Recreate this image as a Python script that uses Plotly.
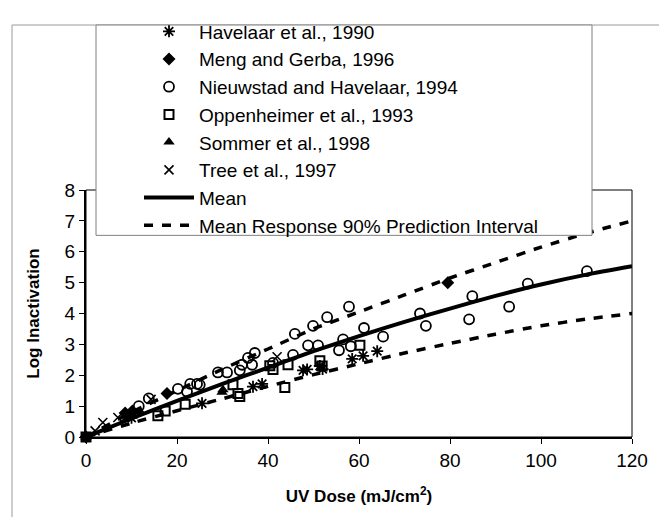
import plotly.graph_objects as go

# ---- data ----
havelaar_x = [0, 25.5, 36.7, 38.7, 47.7, 48.6, 51.4, 52.0, 58.5, 60.9, 64.0, 10.0]
havelaar_y = [0, 1.09, 1.63, 1.72, 2.16, 2.19, 2.30, 2.20, 2.53, 2.63, 2.78, 0.62]

meng_x = [0, 8.6, 9.5, 10.2, 17.8, 79.5]
meng_y = [0, 0.78, 0.70, 0.84, 1.41, 5.00]

nieuw_x = [11.6, 13.8, 20.2, 22.2, 22.9, 24.4, 25.0, 29.0, 31.0, 33.8, 34.3, 35.6, 37.1, 36.5,
           41.1, 45.5, 45.9, 48.8, 49.9, 51.0, 53.0, 55.6, 56.5, 57.8, 58.2, 61.1, 65.3, 73.4,
           74.7, 84.2, 84.9, 93.0, 97.1, 110.1]
nieuw_y = [1.00, 1.25, 1.56, 1.47, 1.72, 1.72, 1.69, 2.09, 2.09, 2.16, 2.34, 2.56, 2.72, 2.34,
           2.40, 2.66, 3.34, 2.97, 3.60, 2.97, 3.88, 2.81, 3.16, 4.22, 2.94, 3.53, 3.25, 4.00,
           3.60, 3.81, 4.56, 4.22, 4.97, 5.37]

oppen_x = [0, 15.8, 17.4, 21.8, 32.3, 33.4, 33.8, 40.4, 41.1, 43.7, 44.4, 51.4, 51.9, 60.2]
oppen_y = [0, 0.69, 0.84, 1.06, 1.69, 1.41, 1.31, 2.31, 2.19, 1.60, 2.34, 2.47, 2.30, 2.97]

sommer_x = [0, 9.0, 10.0, 12.0, 29.9, 30.1]
sommer_y = [0, 0.60, 0.70, 0.80, 1.45, 1.53]

tree_x = [2.0, 3.7, 7.0, 14.3, 42.0]
tree_y = [0.20, 0.47, 0.63, 1.22, 2.60]

line_x = [0, 10, 20, 30, 40, 50, 60, 70, 80, 90, 100, 110, 120]
mean_y = [0, 0.60, 1.17, 1.72, 2.25, 2.78, 3.27, 3.73, 4.16, 4.57, 4.94, 5.26, 5.53]
upper_y = [0, 0.80, 1.50, 2.20, 2.85, 3.50, 4.05, 4.60, 5.15, 5.65, 6.15, 6.60, 7.00]
lower_y = [0, 0.45, 0.85, 1.24, 1.64, 2.02, 2.37, 2.72, 3.03, 3.33, 3.60, 3.82, 4.00]

x_ticks = [0, 20, 40, 60, 80, 100, 120]
y_ticks = [0, 1, 2, 3, 4, 5, 6, 7, 8]

FONT = "Liberation Sans, Arial, sans-serif"
FW, FH = 659, 518

fig = go.Figure()

def pts(x, y, name, symbol, size, lw):
    fig.add_trace(go.Scatter(
        x=x, y=y, mode="markers", name=name, cliponaxis=False,
        marker=dict(symbol=symbol, size=size, color="black",
                    line=dict(color="black", width=lw)),
    ))

pts(havelaar_x, havelaar_y, "Havelaar et al., 1990", "asterisk-open", 10, 1.8)
pts(meng_x, meng_y, "Meng and Gerba, 1996", "diamond", 10, 0)
pts(nieuw_x, nieuw_y, "Nieuwstad and Havelaar, 1994", "circle-open", 10, 1.8)
pts(oppen_x, oppen_y, "Oppenheimer et al., 1993", "square-open", 9, 2)
pts(sommer_x, sommer_y, "Sommer et al., 1998", "triangle-up", 10, 0)
pts(tree_x, tree_y, "Tree et al., 1997", "x-thin-open", 9, 1.6)

fig.add_trace(go.Scatter(x=line_x, y=mean_y, mode="lines", name="Mean",
                         line=dict(color="black", width=4, shape="spline", smoothing=0.6)))
fig.add_trace(go.Scatter(x=line_x, y=upper_y, mode="lines",
                         name="Mean Response 90% Prediction Interval",
                         line=dict(color="black", width=3.5, dash="9px,9px",
                                   shape="spline", smoothing=0.6)))
fig.add_trace(go.Scatter(x=line_x, y=lower_y, mode="lines", showlegend=False,
                         line=dict(color="black", width=3.5, dash="9px,9px",
                                   shape="spline", smoothing=0.6)))

# plot-area geometry in px
L, R, T, B = 86, 632, 181, 437
W, H = R - L, B - T
def px(xp):
    return (xp - L) / W
def py(yp):
    return (B - yp) / H

shapes = [
    dict(type="rect", xref="paper", yref="paper", x0=0, x1=1, y0=0, y1=1,
         line=dict(color="black", width=1), layer="below"),
    dict(type="line", xref="paper", yref="paper", x0=px(12), x1=px(12), y0=py(10), y1=py(520),
         line=dict(color="#9a9a9a", width=1)),
    dict(type="line", xref="paper", yref="paper", x0=px(12), x1=px(662), y0=py(10), y1=py(10),
         line=dict(color="#9a9a9a", width=1)),
    dict(type="rect", xref="paper", yref="paper", x0=px(96), x1=px(592), y0=py(228), y1=py(10),
         line=dict(color="#808080", width=1), fillcolor="white", layer="above"),
]

fig.update_layout(
    width=FW, height=FH,
    margin=dict(l=L, r=FW - R, t=T, b=FH - B),
    paper_bgcolor="white", plot_bgcolor="white",
    font=dict(family=FONT, size=19, color="black"),
    shapes=shapes,
    showlegend=True,
    legend=dict(x=px(139), y=py(-3), xanchor="left", yanchor="top",
                bgcolor="rgba(0,0,0,0)", borderwidth=0, itemwidth=50,
                font=dict(family=FONT, size=19, color="black"),
                tracegroupgap=0, itemclick=False),
    xaxis=dict(range=[0, 120], tickvals=x_ticks, ticks="outside", ticklen=5, tickwidth=1,
               tickcolor="black", showline=True, linecolor="black", linewidth=2,
               showgrid=False, zeroline=False,
               tickfont=dict(family=FONT, size=19),
               title=dict(text="<b>UV Dose (mJ/cm<sup>2</sup>)</b>",
                          font=dict(family=FONT, size=17), standoff=20)),
    yaxis=dict(range=[0, 8], tickvals=y_ticks, ticks="outside", ticklen=5, tickwidth=1,
               tickcolor="black", showline=True, linecolor="black", linewidth=2,
               showgrid=False, zeroline=False,
               tickfont=dict(family=FONT, size=19),
               title=dict(text="<b>Log Inactivation</b>",
                          font=dict(family=FONT, size=17), standoff=21)),
)

fig.write_html("out.html", config={"displayModeBar": False},
               post_script="document.body.style.margin='0';document.body.style.padding='0';")
